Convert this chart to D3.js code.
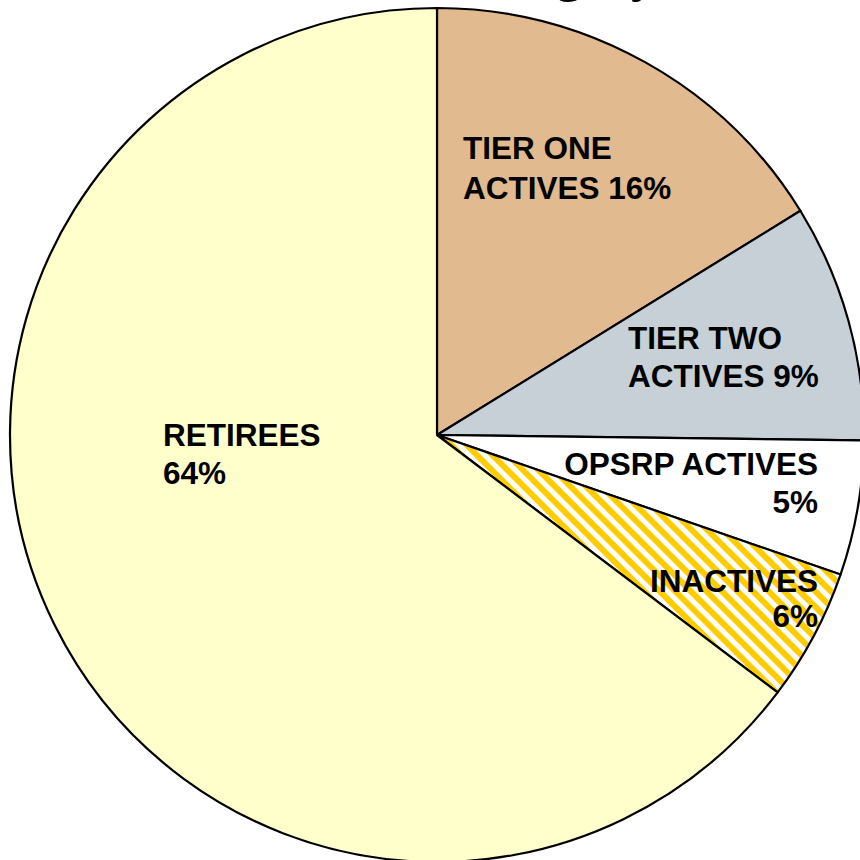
<!DOCTYPE html>
<html><head><meta charset="utf-8">
<script src="https://cdn.jsdelivr.net/npm/d3@7"></script>
<style>html,body{margin:0;padding:0;background:#fff;overflow:hidden}</style>
</head><body>
<svg id="c" width="860" height="860"></svg>
<script>
const categories = ["TIER ONE ACTIVES","TIER TWO ACTIVES","OPSRP ACTIVES","INACTIVES","RETIREES"];
const values = [16.2, 9.0, 5.1, 5.0, 64.7];
const labelLines = [["TIER ONE","ACTIVES 16%"],["TIER TWO","ACTIVES 9%"],["OPSRP ACTIVES","5%"],["INACTIVES","6%"],["RETIREES","64%"]];
const titleText = "Category";

const fills = ["#E2BA8F","#C6D0D6","#FFFFFF","url(#hatch)","#FFFFCC"];
const labelLayout = [
  {x:463, y:159, dy:40, anchor:"start"},
  {x:628, y:349, dy:38, anchor:"start"},
  {x:818, y:475, dy:38, anchor:"end"},
  {x:818, y:592, dy:35, anchor:"end"},
  {x:163, y:446, dy:38, anchor:"start"}
];

const svg = d3.select("#c");
const defs = svg.append("defs");
const pat = defs.append("pattern").attr("id","hatch").attr("patternUnits","userSpaceOnUse")
  .attr("width",11).attr("height",11).attr("patternTransform","rotate(-45)");
pat.append("rect").attr("width",11).attr("height",11).attr("fill","#fff");
pat.append("rect").attr("width",6).attr("height",11).attr("fill","#FFCC00");

svg.append("text").attr("x",452).attr("y",-9.5).attr("text-anchor","start")
  .attr("font-family","Liberation Serif").attr("font-weight","bold").attr("font-size",52)
  .text(titleText);

const cx = 437, cy = 435, r = 427;
const pie = d3.pie().sort(null).value(d=>d)(values);
const arc = d3.arc().innerRadius(0).outerRadius(r);
const g = svg.append("g").attr("transform",`translate(${cx},${cy})`);
g.selectAll("path").data(pie).join("path")
  .attr("d",arc).attr("fill",(d,i)=>fills[i])
  .attr("stroke","#000").attr("stroke-width",2.2).attr("stroke-linejoin","round");

const lab = svg.append("g").attr("font-family","Liberation Sans, Arial, sans-serif")
  .attr("font-weight","bold").attr("font-size",31.5).attr("fill","#000");
labelLines.forEach((lines,i)=>{
  const L = labelLayout[i];
  lines.forEach((t,j)=>{
    lab.append("text").attr("x",L.x).attr("y",L.y + j*L.dy)
      .attr("text-anchor",L.anchor).text(t);
  });
});
</script>
</body></html>
